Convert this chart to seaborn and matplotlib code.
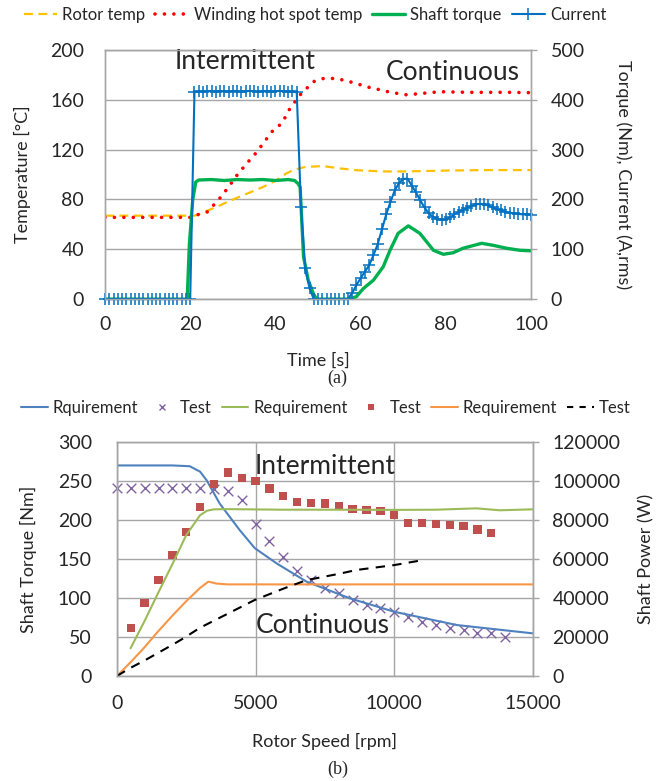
import matplotlib
matplotlib.use("Agg")
import matplotlib.pyplot as plt
import seaborn as sns
from matplotlib.lines import Line2D

# ---------------- (a) data ----------------
time_current = [0, 1, 2, 3, 4, 5, 6, 7, 8, 9, 10, 11, 12, 13, 14, 15, 16, 17, 18, 19, 20,
                21, 22, 23, 24, 25, 26, 27, 28, 29, 30, 31, 32, 33, 34, 35, 36, 37, 38, 39, 40,
                41, 42, 43, 44, 45, 46, 47, 48, 49, 50, 51, 52, 53, 54, 55, 56, 57, 58, 59, 60,
                61, 62, 63, 64, 65, 66, 67, 68, 69, 70, 71, 72, 73, 74, 75, 76, 77, 78, 79, 80,
                81, 82, 83, 84, 85, 86, 87, 88, 89, 90, 91, 92, 93, 94, 95, 96, 97, 98, 99, 100]
current = [0, 0, 0, 0, 0, 0, 0, 0, 0, 0, 0, 0, 0, 0, 0, 0, 0, 0, 0, 0, 0,
           416, 417, 416, 418, 417, 416, 417, 417, 416, 418, 417, 416, 417, 418, 417, 416, 417, 417, 416, 417,
           418, 417, 416, 417, 415, 185, 62, 22, 0, 0, 0, 0, 0, 0, 0, 0, 0, 12, 28, 42,
           55, 68, 88, 110, 140, 170, 195, 218, 233, 241, 242, 228, 214, 198, 184, 172, 165, 161, 159, 160,
           164, 170, 175, 179, 183, 187, 190, 191, 190, 188, 184, 181, 178, 175, 173, 172, 171, 170, 170, 169]

time_torque = [0, 19.3, 19.8, 20.6, 21.3, 22, 25, 28, 31, 34, 37, 40, 43, 44.5, 45.3, 45.8, 46.6,
               47.7, 48.9, 49.7, 57.5, 59, 60.6, 63, 65.3, 66.9, 68.8, 71.2, 73.9, 77.1, 79.4,
               81.7, 84, 88.4, 91.1, 94.3, 97.4, 100]
shaft_torque = [0, 0, 110, 200, 235, 239, 240, 238, 240, 239, 240, 238, 240, 238, 232, 225, 85,
                38, 11, 0, 0, 5, 21, 38, 65, 98, 132, 147, 132, 98, 90,
                93, 102, 112, 108, 102, 98, 97]

time_rotor = [0, 21, 21.5, 24, 26.2, 29, 32.5, 35, 37.2, 40, 42.6, 44.5, 46.6, 48, 51.2, 55, 59,
              65, 70.8, 80, 90, 100]
rotor_temp = [67, 67, 67.5, 71, 74, 78.5, 83.5, 87, 90.2, 95, 101, 104, 105.8, 106.3, 106.8, 105,
              103.5, 102.5, 102.5, 103.2, 103.6, 103.6]

time_winding = [0, 21, 21.5, 24, 26.6, 29, 31, 33.3, 35.6, 38, 39.5, 41.5, 43.4, 45.8, 48.9, 51,
                53, 55, 57, 59, 62, 64.6, 67, 70.8, 74, 78.6, 85, 90, 95, 100]
winding_temp = [65.6, 65.6, 67.5, 70, 79.5, 90, 99.6, 109, 118, 129, 135.7, 141, 153, 164, 174.5,
                177, 177.3, 176.5, 175, 173, 170, 168, 166, 164, 165, 166.5, 166, 166, 166, 165.7]

# ---------------- (b) data ----------------
rpm_req_torque = [0, 1000, 2000, 2625, 3000, 3235, 3708, 4430, 4970, 5755, 6838, 8400, 10000,
                  12253, 15000]
req_torque = [270, 270, 270, 269, 262, 251, 221, 187, 164, 144.5, 121, 99.6, 82.4, 65.4, 54.7]

rpm_test_torque = [0, 500, 1000, 1500, 2000, 2500, 3000, 3500, 4000, 4500, 5000, 5500, 6000,
                   6500, 7000, 7500, 8000, 8500, 9000, 9500, 10000, 10500, 11000, 11500, 12000,
                   12500, 13000, 13500, 14000]
test_torque = [241.5, 241.5, 241.5, 241.5, 241.5, 241.5, 241.5, 240, 237, 225.6, 195, 173.5, 153,
               134.6, 123, 112.4, 106, 97.4, 91, 86.8, 82.5, 76, 69.7, 65.4, 61, 59, 55.6, 54.7,
               50.4]

rpm_req_peak_power = [490, 1000, 1500, 2000, 2500, 3000, 3250, 3500, 4000, 6000, 8000, 10000,
                      11500, 12975, 13800, 15000]
req_peak_power = [14200, 28300, 43000, 57400, 72300, 82500, 84800, 85500, 85600, 85300, 85300,
                  85200, 85300, 86000, 85000, 85500]

rpm_test_peak_power = [500, 1000, 1500, 2000, 2500, 3000, 3500, 4000, 4500, 5000, 5500, 6000,
                       6500, 7000, 7500, 8000, 8500, 9000, 9500, 10000, 10500, 11000, 11500,
                       12000, 12500, 13000, 13500]
test_peak_power = [24800, 37300, 49200, 62000, 74000, 86800, 98500, 104300, 101700, 100000, 96200,
                   92300, 89400, 88900, 88500, 87200, 85500, 85100, 84600, 82600, 78600, 78600,
                   78000, 77400, 76900, 75200, 73500]

rpm_req_cont_power = [0, 500, 1000, 1422, 2022, 2500, 3000, 3296, 3600, 4000, 15000]
req_cont_power = [0, 7200, 14800, 21900, 31300, 38400, 45200, 48400, 47400, 47000, 47000]

rpm_test_cont_power = [0, 459, 1000, 1500, 2000, 2394, 3000, 4000, 4970, 6000, 6838, 8000, 8643,
                       10000, 11047]
test_cont_power = [0, 3960, 8000, 12000, 16000, 19300, 24800, 32000, 39000, 44800, 49200, 52400,
                   54400, 56900, 59500]

# ---------------- style ----------------
sns.set_theme(style="white")
plt.rcParams['font.family'] = ['Lato', 'DejaVu Sans']
GRID = '#A6A6A6'
FS_TICK = 14
FS_LAB = 13
FS_ANN = 19

C_ROTOR, C_WIND, C_TORQ, C_CUR = '#FFC000', '#FF0000', '#00B050', '#0070C0'
C_B1, C_B2, C_B3, C_B4, C_B5 = '#4F81BD', '#8064A2', '#9BBB59', '#C0504D', '#F79646'

fig = plt.figure(figsize=(6.72, 7.81), dpi=100)

# ---------------- (a) ----------------
ax1 = fig.add_axes([0.15625, 0.617, 0.634, 0.319])
ax1b = ax1.twinx()

dash_rotor = (0, (4, 2.5))
dot_wind = (0, (0.01, 2.6))
sns.lineplot(x=time_rotor, y=rotor_temp, ax=ax1, color=C_ROTOR, lw=1.6, linestyle=dash_rotor,
             legend=False)
sns.lineplot(x=time_winding, y=winding_temp, ax=ax1, color=C_WIND, lw=2.6, linestyle=dot_wind,
             dash_capstyle='round', legend=False)
sns.lineplot(x=time_torque, y=shaft_torque, ax=ax1b, color=C_TORQ, lw=2.4, legend=False)
sns.lineplot(x=time_current, y=current, ax=ax1b, color=C_CUR, lw=1.5, marker='+',
             markersize=8, markeredgewidth=1.1, markeredgecolor=C_CUR, markerfacecolor=C_CUR,
             legend=False, clip_on=False)

ax1.set_xlim(0, 100)
ax1.set_ylim(0, 200)
ax1b.set_ylim(0, 500)
ax1.set_xticks([0, 20, 40, 60, 80, 100])
ax1.set_yticks([0, 40, 80, 120, 160, 200])
ax1b.set_yticks([0, 100, 200, 300, 400, 500])
ax1.yaxis.grid(True, color=GRID, lw=1.0)
ax1.xaxis.grid(False)
ax1.set_xlabel('Time [s]', fontsize=FS_LAB, labelpad=14)
ax1.set_ylabel('Temperature [°C]', fontsize=FS_LAB, labelpad=14)
ax1b.set_ylabel('Torque (Nm), Current (A,rms)', fontsize=FS_LAB, rotation=270, labelpad=34)
ax1.tick_params(axis='both', length=0, labelsize=FS_TICK)
ax1.tick_params(axis='y', pad=15)
ax1.tick_params(axis='x', pad=12)
ax1b.tick_params(axis='y', length=4, width=1, color=GRID, pad=10, labelsize=FS_TICK, direction='out')
for a in (ax1, ax1b):
    for s in a.spines.values():
        s.set_color(GRID)
        s.set_linewidth(1.0)

ax1.text(32.9, 191, 'Intermittent', ha='center', va='center', fontsize=FS_ANN)
ax1.text(81.7, 182, 'Continuous', ha='center', va='center', fontsize=FS_ANN)

handles_a = [
    Line2D([], [], color=C_ROTOR, lw=1.6, linestyle=dash_rotor),
    Line2D([], [], color=C_WIND, lw=2.6, linestyle=dot_wind, dash_capstyle='round'),
    Line2D([], [], color=C_TORQ, lw=2.4),
    Line2D([], [], color=C_CUR, lw=1.5, marker='+', markersize=8, markeredgewidth=1.1),
]
fig.legend(handles_a, ['Rotor temp', 'Winding hot spot temp', 'Shaft torque', 'Current'],
           loc='center', bbox_to_anchor=(0.469, 0.981), ncol=4, frameon=False, fontsize=12,
           handlelength=2.0, handletextpad=0.3, columnspacing=0.6)

fig.text(0.502, 1 - 378 / 781, '(a)', ha='center', va='center', fontsize=13,
         family=['Liberation Serif', 'DejaVu Serif'])

# ---------------- (b) ----------------
ax2 = fig.add_axes([0.174, 0.1344, 0.619, 0.2996])
ax2b = ax2.twinx()

sns.lineplot(x=rpm_req_torque, y=req_torque, ax=ax2, color=C_B1, lw=1.5, legend=False)
sns.scatterplot(x=rpm_test_torque, y=test_torque, ax=ax2, color=C_B2, marker='x', s=48,
                linewidth=1.0, legend=False, clip_on=False)
sns.lineplot(x=rpm_req_peak_power, y=req_peak_power, ax=ax2b, color=C_B3, lw=1.5, legend=False)
sns.scatterplot(x=rpm_test_peak_power, y=test_peak_power, ax=ax2b, color=C_B4, marker='s', s=36,
                edgecolor='none', legend=False)
sns.lineplot(x=rpm_req_cont_power, y=req_cont_power, ax=ax2b, color=C_B5, lw=1.5, legend=False)
sns.lineplot(x=rpm_test_cont_power, y=test_cont_power, ax=ax2b, color='black', lw=1.5,
             linestyle=(0, (4.5, 3.5)), legend=False)

ax2.set_xlim(0, 15000)
ax2.set_ylim(0, 300)
ax2b.set_ylim(0, 120000)
ax2.set_xticks([0, 5000, 10000, 15000])
ax2.set_yticks([0, 50, 100, 150, 200, 250, 300])
ax2b.set_yticks([0, 20000, 40000, 60000, 80000, 100000, 120000])
ax2.grid(True, color=GRID, lw=1.0)
ax2.set_xlabel('Rotor Speed [rpm]', fontsize=FS_LAB, labelpad=15)
ax2.set_ylabel('Shaft Torque [Nm]', fontsize=FS_LAB, labelpad=15)
ax2b.set_ylabel('Shaft Power (W)', fontsize=FS_LAB, rotation=90, labelpad=13)
ax2.tick_params(axis='both', length=0, labelsize=FS_TICK)
ax2.tick_params(axis='y', pad=18)
ax2.tick_params(axis='x', pad=14)
ax2b.tick_params(axis='y', length=4, width=1, color=GRID, pad=10, labelsize=FS_TICK, direction='out')
for a in (ax2, ax2b):
    for s in a.spines.values():
        s.set_color(GRID)
        s.set_linewidth(1.0)

ax2.text(7509, 269, 'Intermittent', ha='center', va='center', fontsize=FS_ANN)
ax2.text(7437, 65, 'Continuous', ha='center', va='center', fontsize=FS_ANN)

handles_b = [
    Line2D([], [], color=C_B1, lw=1.5),
    Line2D([], [], color=C_B2, lw=0, marker='x', markersize=5, markeredgewidth=1.0),
    Line2D([], [], color=C_B3, lw=1.5),
    Line2D([], [], color=C_B4, lw=0, marker='s', markersize=5, markeredgewidth=0),
    Line2D([], [], color=C_B5, lw=1.5),
    Line2D([], [], color='black', lw=1.5, linestyle=(0, (3, 3))),
]
fig.legend(handles_b, ['Rquirement', 'Test', 'Requirement', 'Test', 'Requirement', 'Test'],
           loc='center', bbox_to_anchor=(0.485, 1 - 408 / 781), ncol=6, frameon=False,
           fontsize=12, handlelength=1.6, handletextpad=0.3, columnspacing=0.6)

fig.text(0.502, 1 - 769 / 781, '(b)', ha='center', va='center', fontsize=13,
         family=['Liberation Serif', 'DejaVu Serif'])

fig.savefig('out.png', dpi=100)
